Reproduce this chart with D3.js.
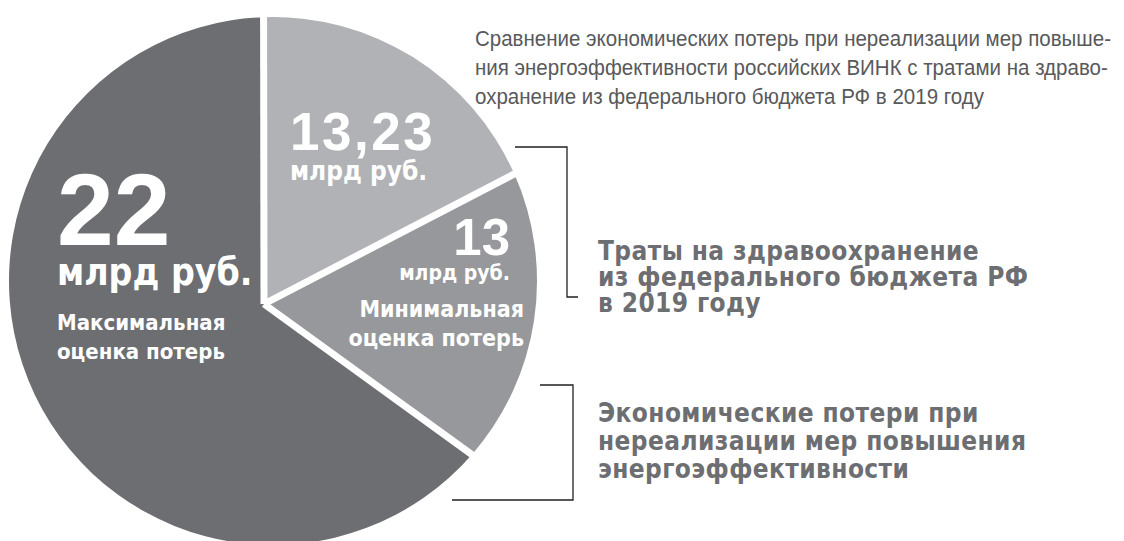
<!DOCTYPE html>
<html>
<head>
<meta charset="utf-8">
<script src="https://cdn.jsdelivr.net/npm/d3@7"></script>
<style>
  html, body { margin: 0; padding: 0; background: #fff; }
  svg { display: block; }
</style>
</head>
<body>
<div id="chart"></div>
<script>
// значения секторов (млрд руб.)
const sliceKeys = ['health', 'minLoss', 'maxLoss'];
const sliceValues = [13.23, 13, 22];
// угол сектора на рисунке, градусы (диаграмма не пропорциональна значениям)
const sliceSweep = [68, 65, 227];
const sliceColors = ['#b1b2b5', '#97989b', '#6d6e71'];
const unitLabel = 'млрд руб.';
const sliceCaptions = [[], ['Минимальная', 'оценка потерь'], ['Максимальная', 'оценка потерь']];

const titleLines = [
    'Сравнение экономических потерь при нереализации мер повыше-',
    'ния энергоэффективности российских ВИНК с тратами на здраво-',
    'охранение из федерального бюджета РФ в 2019 году'
];
const legendHealth = ['Траты на здравоохранение', 'из федерального бюджета РФ', 'в 2019 году'];
const legendLoss = ['Экономические потери при', 'нереализации мер повышения', 'энергоэффективности'];

const width = 1124, height = 541;
const svg = d3.select('#chart').append('svg').attr('width', width).attr('height', height);

// геометрия круга: общая вершина секторов смещена от центра
const cx = 273, cy = 281, R = 264;
const vertex = [264, 304];
const pt = (a, r = R) => [cx + r * Math.sin(a), cy - r * Math.cos(a)];

const rad = d3.scaleLinear().domain([0, 360]).range([0, 2 * Math.PI]);
const startA = rad(-2);
const pie = d3.pie().sort(null).value((d, i) => sliceSweep[i])
    .startAngle(startA).endAngle(startA + 2 * Math.PI);
const arcs = pie(sliceValues);

const slicePath = d => {
    const p = d3.path();
    p.moveTo(vertex[0], vertex[1]);
    const s = pt(d.startAngle);
    p.lineTo(s[0], s[1]);
    p.arc(cx, cy, R, d.startAngle - Math.PI / 2, d.endAngle - Math.PI / 2, false);
    p.closePath();
    return p.toString();
};

const pieG = svg.append('g');
pieG.selectAll('path.slice').data(arcs).enter().append('path')
    .attr('class', 'slice')
    .attr('d', slicePath)
    .attr('fill', (d, i) => sliceColors[i]);

// белые разделители
pieG.selectAll('line.sep').data(arcs).enter().append('line')
    .attr('class', 'sep')
    .attr('x1', vertex[0]).attr('y1', vertex[1])
    .attr('x2', d => pt(d.startAngle, R + 6)[0])
    .attr('y2', d => pt(d.startAngle, R + 6)[1])
    .attr('stroke', '#fff').attr('stroke-width', 7);

// подписи внутри секторов
const numFmt = v => String(v).replace('.', ',');
const labelFont = '"DejaVu Sans Condensed", "Liberation Sans", sans-serif';
const numFont = '"Liberation Sans", Arial, sans-serif';
const labelLayout = [
    { x: 290, anchor: 'start', numY: 150, numSize: 53, spacing: 2.5, unitY: 180, unitSize: 26 },
    { x: 510, anchor: 'end', numY: 255, numSize: 51, spacing: 0, unitY: 280, unitSize: 21, capX: 524, capY: 317, capSize: 23 },
    { x: 57, anchor: 'start', numY: 245, numSize: 102, spacing: 0, unitY: 285, unitSize: 37, capX: 57, capY: 330, capSize: 22 }
];
const lbl = svg.append('g').attr('fill', '#fff').style('font-weight', 'bold');
arcs.forEach((d, i) => {
    const L = labelLayout[i];
    lbl.append('text').attr('x', L.x).attr('y', L.numY).attr('text-anchor', L.anchor)
        .style('font-family', numFont).style('font-size', L.numSize + 'px')
        .style('letter-spacing', L.spacing + 'px')
        .text(numFmt(d.data));
    lbl.append('text').attr('x', L.x).attr('y', L.unitY).attr('text-anchor', L.anchor)
        .style('font-family', labelFont).style('font-size', L.unitSize + 'px').text(unitLabel);
    sliceCaptions[i].forEach((t, j) => {
        lbl.append('text').attr('x', L.capX).attr('y', L.capY + j * 29).attr('text-anchor', L.anchor)
            .style('font-family', labelFont).style('font-size', L.capSize + 'px').text(t);
    });
});

// заголовок: узкий шрифт имитируем общим горизонтальным сжатием
const title = svg.append('g').selectAll('text').data(titleLines).enter().append('text')
    .attr('x', 475).attr('y', (d, i) => 46 + i * 29)
    .style('font-family', '"Liberation Sans", Arial, sans-serif')
    .style('font-size', '22px').attr('fill', '#58595b')
    .text(d => d);
const natural = title.nodes().map(n => n.getComputedTextLength());
const squeeze = 636 / natural[0];
title.attr('textLength', (d, i) => natural[i] * squeeze)
    .attr('lengthAdjust', 'spacingAndGlyphs');

// легенда со скобками
const legendColor = '#6d6e71';
function legend(lines, baseY, step, bracket) {
    const g = svg.append('g');
    g.append('path').attr('d', bracket).attr('fill', 'none').attr('stroke', '#231f20').attr('stroke-width', 1.3);
    g.selectAll('text').data(lines).enter().append('text')
        .attr('x', 598).attr('y', (d, i) => baseY + i * step)
        .style('font-family', labelFont).style('font-weight', 'bold')
        .style('font-size', '26px').style('letter-spacing', '0.4px')
        .attr('fill', legendColor)
        .text(d => d);
}
legend(legendHealth, 260, 26, 'M515,147H567V297H578');
legend(legendLoss, 422, 28, 'M540,385H573V500H452');
</script>
</body>
</html>
